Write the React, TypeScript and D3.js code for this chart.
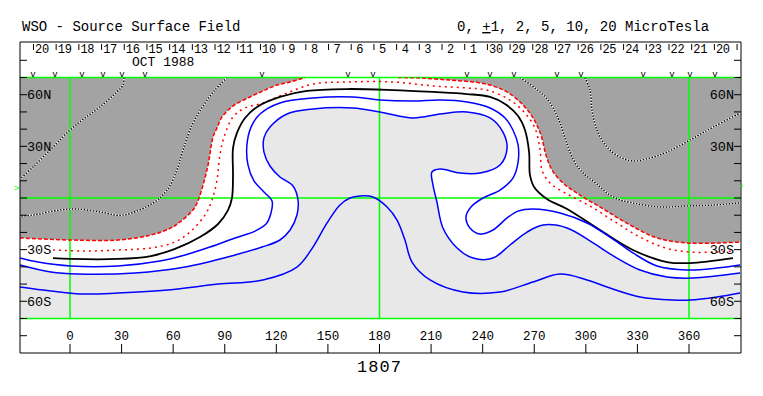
import React from "react";
import * as d3 from "d3";

type Pt = [number, number];

const title = "WSO - Source Surface Field";
const rotation = "1807";
const monthLabel = "OCT 1988";
const levelsText = ["0, ", "+", "1, 2, 5, 10, 20 MicroTesla"];

// days of the rotation, left to right (Carrington longitude runs backwards in time)
const dayLabels = [
  "20", "19", "18", "17", "16", "15", "14", "13", "12", "11", "10", "9", "8", "7", "6", "5",
  "4", "3", "2", "1", "30", "29", "28", "27", "26", "25", "24", "23", "22", "21", "20"
];
const firstDayLon = -16.3;
const dayStep = 13.2;

const lonTicks = [0, 30, 60, 90, 120, 150, 180, 210, 240, 270, 300, 330, 360];
const latTicks = [-80, -70, -60, -50, -40, -30, -20, -10, 0, 10, 20, 30, 40, 50, 60, 70, 80];
const latLabels: [number, string][] = [[60, "60N"], [30, "30N"], [-30, "30S"], [-60, "60S"]];
const gridLons = [0, 180, 360];
const gridLats = [-70, 0, 70];

// longitudes of the observation marks on the top strip
const obsLons = [-21.5, -8.7, 7, 19.2, 30.2, 43.6, 111.7, 161.7, 176.2, 230.9, 244.3, 258.2, 283.2, 297.2, 333.3, 350.1, 360.6, 375.1];

// contours, [longitude, latitude]
const redOuterWest: Pt[] = [
  [-29.1, -23.2], [0.6, -24.4], [27.9, -24.4], [47.1, -21.5], [58.7, -17.4], [64.0, -13.9],
  [71.5, -7.0], [73.9, -2.9], [77.4, 7.6], [80.3, 19.2], [83.2, 35.4], [85.5, 40.7], [88.4, 47.1],
  [94.8, 53.4], [104.7, 58.7], [113.4, 62.7], [120.4, 65.6], [128.0, 67.4], [136.7, 70]
];
const redOuterEast: Pt[] = [
  [190.8, 70], [203.6, 69.7], [221.0, 68.5], [234.4, 67.4], [244.3, 65.6], [254.2, 61.6],
  [263.5, 54.0], [269.3, 46.5], [273.9, 36.6], [276.8, 25.0], [280.3, 16.3], [286.7, 8.7],
  [296.6, 1.7], [311.2, -7.0], [325.7, -15.7], [341.4, -23.2], [358.9, -26.1], [378.1, -26.1], [389.7, -25.6]
];
const redInner: Pt[] = [
  [-9.9, -30.2], [8.7, -30.8], [27.9, -30.2], [47.1, -29.0], [61.1, -25.6], [70.4, -19.2],
  [78.5, -9.9], [82.6, -1.2], [85.5, 10.5], [87.2, 25.0], [89.6, 35.4], [94.8, 47.1], [101.8, 52.3],
  [112.2, 55.2], [126.2, 61.0], [141.3, 66.2], [161.1, 67.4], [187.9, 67.4], [211.1, 65.1],
  [230.9, 63.9], [242.5, 62.7], [255.9, 56.9], [264.6, 49.4], [270.4, 40.7], [273.4, 27.9],
  [274.5, 16.3], [279.2, 8.7], [289.1, 2.3], [302.4, -4.6], [317.0, -13.9], [331.5, -22.7],
  [346.1, -29.0], [360.6, -31.4], [375.1, -31.4], [385.6, -30.8]
];
const neutralLine: Pt[] = [
  [-9.9, -34.9], [0.6, -35.4], [27.9, -35.4], [47.1, -33.7], [61.1, -29.6], [75.6, -22.7],
  [86.1, -15.1], [91.9, -7.0], [94.2, 0], [94.8, 13.4], [94.8, 29.0], [97.1, 37.8], [101.8, 46.5],
  [108.8, 52.9], [122.1, 58.7], [137.8, 62.2], [161.1, 63.3], [187.9, 62.7], [211.1, 61.6],
  [230.9, 60.4], [244.3, 58.7], [253.0, 54.6], [260.6, 47.6], [264.6, 39.5], [267.0, 26.7],
  [267.5, 13.4], [269.9, 6.4], [277.4, -0.6], [289.1, -6.4], [308.2, -18.6], [327.4, -30.2],
  [347.2, -37.2], [360.6, -37.8], [385.6, -34.9]
];
const bluePlus1: Pt[] = [
  [-29.1, -34.9], [-18.6, -37.2], [0.6, -39.5], [27.9, -39.5], [52.3, -36.6], [66.9, -33.1],
  [81.4, -28.5], [96.0, -23.2], [107.6, -19.2], [114.0, -15.1], [116.9, -8.7], [117.5, -1.7],
  [112.8, 3.5], [107.0, 9.9], [103.5, 19.2], [102.9, 30.8], [105.3, 41.2], [110.5, 48.8],
  [122.1, 55.2], [141.3, 58.1], [164.6, 58.7], [180.3, 56.9], [199.5, 56.3], [215.2, 56.9],
  [230.9, 55.8], [244.3, 52.3], [253.0, 46.5], [257.6, 39.5], [260.6, 30.8], [260.6, 20.9],
  [257.6, 11.6], [250.1, 4.6], [240.2, 0], [233.2, -5.2], [230.3, -11.0], [232.6, -17.4],
  [238.5, -20.9], [246.0, -18.6], [254.2, -11.6], [260.6, -7.6], [269.3, -6.4], [285.0, -8.7],
  [300.7, -14.5], [314.1, -22.7], [327.4, -31.9], [341.4, -39.5], [358.8, -41.8], [376.3, -40.7], [389.7, -38.9]
];
const bluePlus2: Pt[] = [
  [-29.1, -38.9], [-11.1, -43.0], [4.7, -44.2], [37.8, -43.6], [66.9, -40.1], [96.0, -33.1],
  [111.7, -28.5], [122.1, -24.4], [128.0, -18.6], [132.0, -9.9], [132.6, -1.2], [129.7, 7.0],
  [122.1, 12.2], [116.3, 18.6], [112.8, 26.7], [112.8, 34.9], [116.3, 41.2], [126.2, 48.8],
  [141.3, 51.7], [164.6, 52.3], [180.3, 50.0], [199.5, 46.5], [215.2, 48.8], [230.9, 50.0],
  [244.3, 46.5], [251.8, 38.3], [254.2, 29.0], [250.1, 19.2], [238.5, 14.5], [226.8, 14.5],
  [215.2, 16.8], [210.5, 15.1], [211.1, 7.6], [213.4, -2.3], [216.9, -17.4], [225.1, -29.0],
  [234.4, -34.9], [246.0, -34.9], [255.9, -27.3], [265.8, -19.8], [275.1, -15.7], [289.1, -17.4],
  [304.2, -26.1], [318.1, -34.9], [331.5, -41.8], [347.2, -45.9], [362.3, -46.5], [389.7, -43.6]
];
const bluePlus5: Pt[] = [
  [-29.1, -51.7], [-11.1, -54.0], [8.7, -55.8], [27.9, -55.2], [57.0, -53.4], [86.1, -50.0],
  [112.2, -47.6], [132.0, -40.1], [141.3, -28.5], [149.5, -14.5], [157.0, -4.1], [162.8, 0],
  [168.7, 1.2], [176.2, 0.6], [184.4, -5.2], [190.2, -12.8], [194.8, -24.4], [198.9, -37.2],
  [209.4, -47.6], [228.6, -54.6], [250.1, -54.6], [269.3, -48.8], [285.0, -44.2], [300.7, -47.6],
  [314.1, -52.3], [331.5, -57.5], [350.7, -59.3], [360.6, -59.3], [376.3, -57.5], [389.7, -55.2]
];
const minus5West1: Pt[] = [
  [31.4, 70], [30.8, 65.6], [27.3, 61.6], [17.4, 52.9], [8.7, 46.5], [0, 39.5], [-9.9, 29.6],
  [-21.5, 18.0], [-29.1, 11.0]
];
const minus5West2: Pt[] = [
  [91.3, 70], [84.3, 62.7], [77.4, 53.4], [71.0, 42.4], [65.7, 27.9], [62.2, 16.3], [56.4, 4.6],
  [48.3, -2.9], [30.8, -9.9], [17.4, -8.1], [4.1, -6.4], [-5.8, -7.0], [-21.5, -9.9], [-29.1, -10.5]
];
const minus5East1: Pt[] = [
  [261.7, 70], [270.4, 63.9], [278.0, 56.9], [283.8, 46.5], [287.9, 34.9], [292.0, 23.8],
  [297.8, 15.1], [306.5, 8.1], [315.8, 0.6], [327.4, -2.9], [343.1, -5.2], [358.8, -4.6],
  [374.0, -4.1], [389.7, -2.9]
];
const minus5East2: Pt[] = [
  [299.5, 70], [302.4, 62.7], [303.6, 51.1], [306.5, 39.5], [312.3, 29.6], [319.9, 23.8],
  [327.4, 21.5], [337.3, 23.2], [347.2, 26.7], [360.6, 33.7], [374.0, 41.2], [389.7, 49.4]
];

const W = 763;
const H = 396;
const frame = { left: 20, right: 741, top: 42, bottom: 353 };
const lonEdge: [number, number] = [-29.1, 390];

const x = d3.scaleLinear().domain([0, 360]).range([70, 689]);
const y = d3.scaleLinear().domain([-70, 70]).range([318.5, 77.5]);

const FONT = "'Liberation Mono', 'DejaVu Sans Mono', monospace";
const DARK = "#a3a3a3";
const LIGHT = "#e8e8e8";
const GREEN = "#00ff00";

const line = d3
  .line<Pt>()
  .x(d => x(d[0]))
  .y(d => y(d[1]))
  .curve(d3.curveCatmullRom.alpha(0.5));

export default function App() {
  const pl = x(lonEdge[0]);
  const pr = x(lonEdge[1]);
  const pt = y(70);
  const pb = y(-70);

  const lightPath = `${line(bluePlus2)}L${pr},${y(-43.6)}L${pr},${pb}L${pl},${pb}Z`;
  const darkWest = `${line(redOuterWest)}L${pl},${pt}Z`;
  const darkEast = `${line(redOuterEast)}L${pr},${y(-25.6)}L${pr},${pt}Z`;

  const dotted = [minus5West1, minus5West2, minus5East1, minus5East2];
  const dayLon = (i: number) => firstDayLon + i * dayStep;

  return (
    <svg
      width={W}
      height={H}
      style={{ position: "absolute", left: 0, top: 0, background: "#fff" }}
      fontFamily={FONT}
    >
      <defs>
        <clipPath id="plot">
          <rect x={pl} y={pt} width={pr - pl} height={pb - pt} />
        </clipPath>
      </defs>
      <rect width={W} height={H} fill="#fff" />

      {/* header */}
      <text x={22} y={31} fontSize={14}>{title}</text>
      <text x={457} y={31} fontSize={14}>
        {levelsText[0]}
        <tspan style={{ textDecoration: "underline" }}>{levelsText[1]}</tspan>
        {levelsText[2]}
      </text>

      {/* shaded polarity regions */}
      <g clipPath="url(#plot)">
        <rect x={pl} y={pt} width={pr - pl} height={pb - pt} fill="#fff" />
        <path d={lightPath} fill={LIGHT} />
        <path d={darkWest} fill={DARK} />
        <path d={darkEast} fill={DARK} />
      </g>

      {/* green grid */}
      <g stroke={GREEN} strokeWidth={1.5}>
        {gridLons.map(l => (
          <line key={"gl" + l} x1={x(l)} x2={x(l)} y1={pt} y2={pb} />
        ))}
        {gridLats.map(l => (
          <line key={"gb" + l} x1={pl} x2={pr} y1={y(l)} y2={y(l)} />
        ))}
      </g>

      {/* contours */}
      <g clipPath="url(#plot)" fill="none">
        {dotted.map((d, i) => (
          <g key={"dot" + i}>
            <path d={line(d) ?? ""} stroke="#fff" strokeWidth={1.4} />
            <path d={line(d) ?? ""} stroke="#000" strokeWidth={1.4} strokeDasharray="1.5,1.5" />
          </g>
        ))}
        <path d={line(redOuterWest) ?? ""} stroke="#ff0000" strokeWidth={1.5} strokeDasharray="4,2" />
        <path d={line(redOuterEast) ?? ""} stroke="#ff0000" strokeWidth={1.5} strokeDasharray="4,2" />
        <path d={line(redInner) ?? ""} stroke="#ff0000" strokeWidth={1.5} strokeDasharray="2,4" />
        <path d={line(neutralLine) ?? ""} stroke="#000" strokeWidth={1.8} />
        <path d={line(bluePlus1) ?? ""} stroke="#0000ff" strokeWidth={1.5} />
        <path d={line(bluePlus2) ?? ""} stroke="#0000ff" strokeWidth={1.5} />
        <path d={line(bluePlus5) ?? ""} stroke="#0000ff" strokeWidth={1.5} />
      </g>

      {/* frame */}
      <g stroke="#000" strokeWidth={1} fill="none">
        <polyline
          points={`${frame.left},${frame.bottom} ${frame.left},${frame.top} ${frame.right},${frame.top} ${frame.right},${frame.bottom}`}
        />
        <line x1={frame.left} x2={frame.right} y1={frame.bottom} y2={frame.bottom} />
        {latTicks.map(l => (
          <g key={"lt" + l}>
            <line x1={frame.left} x2={frame.left + 7} y1={y(l)} y2={y(l)} />
            <line x1={frame.right - 7} x2={frame.right} y1={y(l)} y2={y(l)} />
          </g>
        ))}
        {lonTicks.map(l => (
          <line key={"xt" + l} x1={x(l)} x2={x(l)} y1={frame.bottom} y2={frame.bottom - 9} />
        ))}
        {d3.range(dayLabels.length + 1).map(i => (
          <line key={"dt" + i} x1={x(dayLon(i)) - 8.5} x2={x(dayLon(i)) - 8.5} y1={frame.top + 2} y2={frame.top + 8} />
        ))}
      </g>

      {/* day labels */}
      {dayLabels.map((d, i) => (
        <text key={"d" + i} x={x(dayLon(i))} y={52.5} fontSize={12} textAnchor="middle" letterSpacing={-0.3}>
          {d}
        </text>
      ))}
      <text x={132} y={65.5} fontSize={13}>{monthLabel}</text>

      {/* observation marks */}
      {obsLons.map((l, i) => (
        <text key={"v" + i} x={x(l)} y={76.5} fontSize={9} textAnchor="middle">v</text>
      ))}

      {/* latitude labels */}
      {latLabels.map(([l, s]) => (
        <g key={"ll" + s}>
          <text x={frame.left + 7} y={y(l) + 4.5} fontSize={13.5}>{s}</text>
          <text x={frame.right - 7} y={y(l) + 4.5} fontSize={13.5} textAnchor="end">{s}</text>
        </g>
      ))}

      {/* longitude labels */}
      {lonTicks.map(l => (
        <text key={"xl" + l} x={x(l)} y={340} fontSize={12.5} textAnchor="middle">{l}</text>
      ))}

      <text x={x(180)} y={372} fontSize={17} textAnchor="middle" letterSpacing={1}>{rotation}</text>

      {/* equator markers at the frame */}
      <text x={14} y={191} fontSize={9} fill={GREEN}>&gt;</text>
      <line x1={frame.right - 1} x2={frame.right + 2} y1={186} y2={186} stroke={GREEN} strokeWidth={1} />
    </svg>
  );
}
